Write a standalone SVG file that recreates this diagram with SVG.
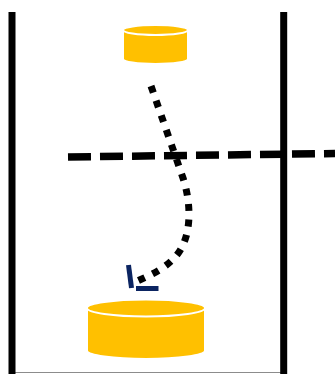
<svg xmlns="http://www.w3.org/2000/svg" width="335" height="374" viewBox="0 0 335 374">
  <style>
    .can { fill: #FFC000; stroke: #FFFFFF; stroke-width: 2; }
    .wall { stroke: #000000; stroke-width: 7; fill: none; }
    .dashed { stroke: #000000; stroke-width: 7.5; fill: none; stroke-dasharray: 23 9; }
    .dotted { stroke: #000000; stroke-width: 7; fill: none; stroke-dasharray: 7 8.5; }
    .head { stroke: #0B2461; stroke-width: 5; fill: none; }
  </style>
  <rect x="0" y="0" width="335" height="374" fill="#FFFFFF"/>
  <g id="container">
    <line x1="15" y1="372.5" x2="281" y2="372.5" stroke="#8C8C8C" stroke-width="1.2"/>
    <line class="wall" x1="12" y1="12" x2="12" y2="374"/>
    <line class="wall" x1="283.7" y1="12" x2="283.7" y2="374"/>
  </g>
  <g id="boundary">
    <line class="dashed" x1="68" y1="157" x2="335" y2="153.5"/>
  </g>
  <g id="source">
    <path class="can" d="M123,30 V59 A32.5,5 0 0 0 188,59 V30 Z"/>
    <ellipse class="can" cx="155.5" cy="30" rx="32.5" ry="5"/>
  </g>
  <g id="target">
    <path class="can" d="M87,308 V350.5 A59,8.5 0 0 0 205,350.5 V308 Z"/>
    <ellipse class="can" cx="146" cy="308" rx="59" ry="8.5"/>
  </g>
  <g id="connectors">
    <path class="dotted" d="M151,86 L183,178 C191,202 193,236 176,256 C164,270 148,276 133,283"/>
    <line class="head" x1="128.5" y1="265" x2="131.5" y2="288"/>
    <line class="head" x1="136" y1="288.5" x2="158.5" y2="288.5"/>
  </g>
</svg>
